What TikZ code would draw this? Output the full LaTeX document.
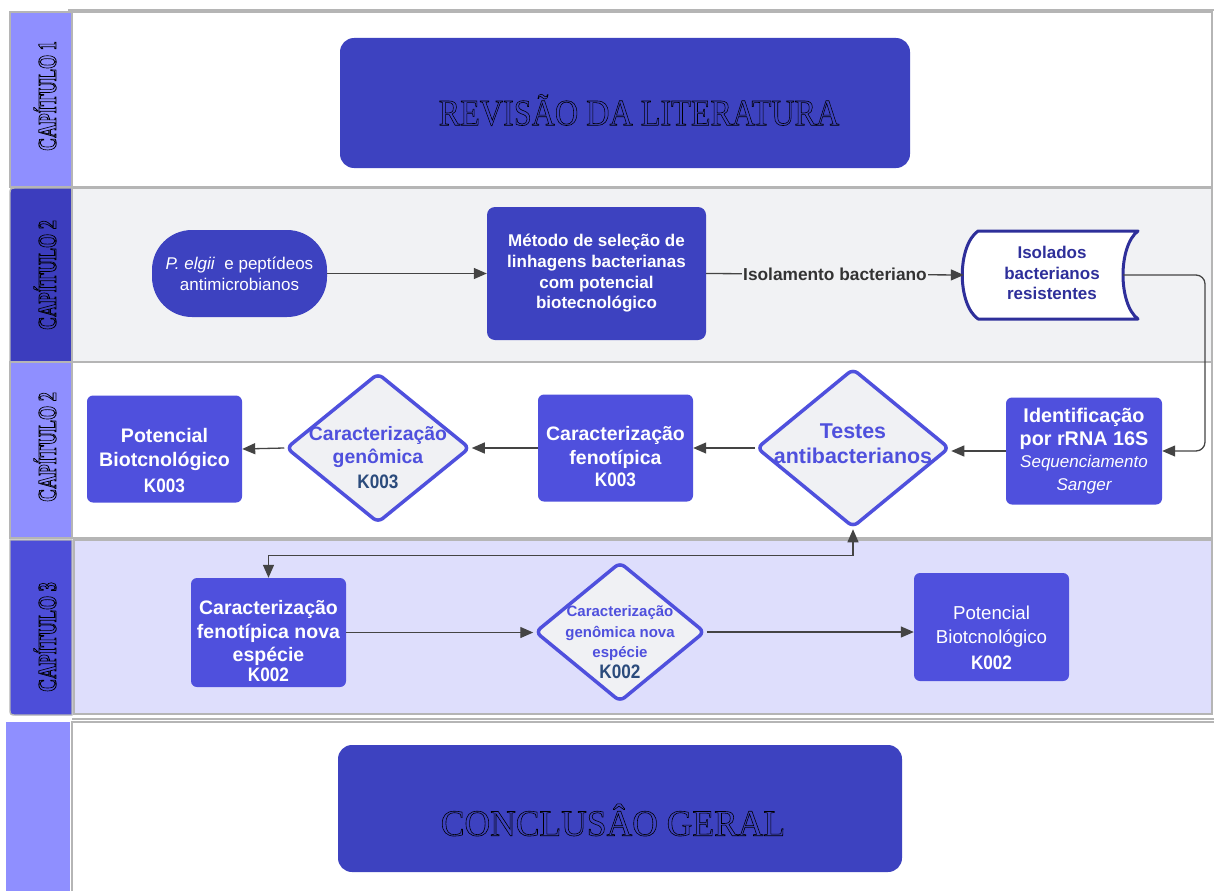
\documentclass[tikz,border=0pt]{standalone}
\usepackage{fontspec}
\setmainfont{Liberation Serif}
\setsansfont{Liberation Sans}
\usetikzlibrary{shapes.geometric,arrows.meta}
\definecolor{cDark}{HTML}{3D42C0}
\definecolor{cMed}{HTML}{4F50DD}
\definecolor{cLight}{HTML}{8F8FFF}
\definecolor{cLabTwo}{HTML}{3C3DBE}
\definecolor{cLabThree}{HTML}{4D4ED9}
\definecolor{cLaneTwo}{HTML}{F1F2F4}
\definecolor{cLaneThree}{HTML}{DEDEFC}
\definecolor{cDia}{HTML}{F0F1F4}
\definecolor{cNavy}{HTML}{2E2F9A}
\definecolor{cTeal}{HTML}{2B4B7C}
\definecolor{cBord}{HTML}{B5B5B5}
\definecolor{cLine}{HTML}{444444}
\definecolor{cLbl}{HTML}{333333}
\newcommand\outl[1]{\special{pdf:code 1 Tr 0.6 w}#1\special{pdf:code 0 Tr}}
\newcommand\outlb[1]{\special{pdf:code 1 Tr 0.9 w}#1\special{pdf:code 0 Tr}}
\newcommand\fsz[2]{\fontsize{#1}{#2}\selectfont}
\newcommand\kc[1]{{\sffamily\bfseries\fontsize{19.5}{21}\selectfont\scalebox{0.88}[1]{#1}}}
\begin{document}
\begin{tikzpicture}[x=1pt,y=-1pt,
  lanebord/.style={draw=cBord,line width=1.4pt},
  darkbox/.style={fill=cDark,rounded corners=8pt,inner sep=0pt,text=white,align=center,font=\sffamily\bfseries\fsz{17}{20.7}},
  medbox/.style={fill=cMed,rounded corners=6pt,inner sep=0pt},
  btext/.style={text=white,align=center,inner sep=0pt,font=\sffamily\bfseries\fsz{19.5}{23.5}},
  dia/.style={diamond,draw=cMed,line width=3.5pt,fill=cDia,rounded corners=6pt,inner sep=0pt},
  dtext/.style={text=cMed,align=center,inner sep=0pt,font=\sffamily\bfseries\fsz{19.4}{23}},
  titletext/.style={text=black,font=\rmfamily\fsz{37}{37}},
  chap/.style={text=black,font=\rmfamily\bfseries\fsz{26}{26}},
  conn/.style={draw=cLine,line width=1.3pt,-{Triangle[length=13pt,width=11pt]}},
  lbl/.style={fill=cLaneTwo,text=cLbl,inner sep=1pt,font=\sffamily\bfseries\fsz{17.3}{20}}
]
\useasboundingbox (0,0) rectangle (1214,891);
\fill[white] (0,0) rectangle (1214,891);
% ---------- lanes ----------
\draw[lanebord] (68,10) -- (1214,10);
\filldraw[lanebord,fill=cLight] (10,12) rectangle (72,187);
\filldraw[lanebord,fill=white] (72,12) rectangle (1212,187);
\filldraw[lanebord,fill=cLabTwo] (10,362) -- (10,195) .. controls (10,188) .. (17,188) -- (72,188) -- (72,362) -- cycle;
\filldraw[lanebord,fill=cLaneTwo] (72,188) rectangle (1212,362);
\filldraw[lanebord,fill=cLight] (10,362) rectangle (72,538);
\filldraw[lanebord,fill=white] (72,362) rectangle (1212,538);
\filldraw[lanebord,fill=cLabThree] (10,540) -- (72,540) -- (72,715) -- (17,715) .. controls (10,715) .. (10,708) -- cycle;
\filldraw[lanebord,fill=cLaneThree] (74,540) rectangle (1212,714);
\draw[lanebord] (72,719) -- (1214,719);
\fill[cLight] (6,722) rectangle (70,891);
\draw[lanebord] (72,891) -- (72,722) -- (1214,722);
% ---------- chapter labels ----------
\node[chap,rotate=90] (c1) at (45,96) {\scalebox{0.7}[1]{\outlb{CAPÍTULO 1}}};
\node[chap,rotate=90] (c2a) at (45,275) {\scalebox{0.7}[1]{\outlb{CAPÍTULO 2}}};
\node[chap,rotate=90] (c2b) at (45,447) {\scalebox{0.7}[1]{\outlb{CAPÍTULO 2}}};
\node[chap,rotate=90] (c3) at (45,637) {\scalebox{0.7}[1]{\outlb{CAPÍTULO 3}}};
% ---------- chapter 1 / conclusion ----------
\node[fill=cDark,rounded corners=14pt,minimum width=570pt,minimum height=130pt] (rev) at (625,103) {};
\node[titletext] (revt) at (639,110) {\scalebox{0.87}[1]{\outl{REVISÃO DA LITERATURA}}};
\node[fill=cDark,rounded corners=14pt,minimum width=564pt,minimum height=127pt] (conc) at (620,808.5) {};
\node[titletext] (conct) at (613,820) {\scalebox{0.96}[1]{\outl{CONCLUSÂO GERAL}}};
% ---------- chapter 2, row 1 ----------
\node[fill=cDark,rounded corners=40pt,minimum width=175pt,minimum height=87pt,inner sep=0pt,text=white,align=center,font=\sffamily\fsz{17}{21}] (pill) at (239.5,273.5) {\textit{P. elgii}\ \ e peptídeos\\antimicrobianos};
\node[darkbox,minimum width=219pt,minimum height=133pt] (met) at (596.5,273.5) {Método de seleção de\\linhagens bacterianas\\com potencial\\biotecnológico};
\node[minimum width=176pt,minimum height=88pt,inner sep=0pt] (iso) at (1052,275) {};
\draw[cNavy,line width=3pt,line join=round,fill=white] (978,231) -- (1138,231) .. controls (1118,246) and (1118,304) .. (1138,319) -- (978,319) .. controls (957,304) and (957,246) .. (978,231) -- cycle;
\node[text=cNavy,align=center,font=\sffamily\bfseries\fsz{17}{20.5}] (isot) at (1052,273) {Isolados\\bacterianos\\resistentes};
\draw[conn] (pill.east) -- (met.west);
\draw[conn] (met.east) -- node[lbl] (isol) {Isolamento bacteriano} (iso.west);
% ---------- chapter 2, row 2 ----------
\node[medbox,minimum width=156pt,minimum height=107pt] (ident) at (1084,451) {};
\node[btext] (identt) at (1084,451) {\fsz{19.8}{24}Identificação\\\fsz{19.8}{23}por rRNA 16S\\[-2pt]\mdseries\itshape\fsz{17}{21}Sequenciamento\\\mdseries\itshape\fsz{17}{21}Sanger};
\coordinate (bendR) at (1205,451);
\draw[conn,rounded corners=9pt] ([xshift=-17pt]iso.east) -| (bendR) -- (ident.east);
\node[dia,minimum width=193pt,minimum height=159pt] (test) at (853,448) {};
\node[dtext,font=\sffamily\bfseries\fsz{21.4}{25}] (testt) at (853,444) {Testes\\antibacterianos};
\node[medbox,minimum width=155pt,minimum height=107pt] (fen) at (615.5,448) {};
\node[btext] (fent) at (615.5,457) {Caracterização\\fenotípica\\[-1pt]\kc{K003}};
\node[dia,minimum width=184pt,minimum height=150pt] (gen) at (378,448) {};
\node[dtext] (gent) at (378,458) {Caracterização\\genômica\\[2pt]{\color{cTeal}\kc{K003}}};
\node[medbox,minimum width=155pt,minimum height=107pt] (pot3) at (164.5,449) {};
\node[btext,font=\sffamily\bfseries\fsz{19.6}{24}] (pot3t) at (164.5,461) {Potencial\\Biotcnológico\\[2pt]\kc{K003}};
\draw[conn] (ident.west) -- (ident.west -| test.east);
\draw[conn] (test.west) -- (fen.east);
\draw[conn] (fen.west) -- (gen.east);
\draw[conn] (gen.west) -- (pot3.east);
% ---------- chapter 3 ----------
\node[medbox,minimum width=155pt,minimum height=109pt] (fnova) at (268.5,632.5) {};
\node[btext] (fnovat) at (268.5,641) {Caracterização\\fenotípica nova\\espécie\\[-4pt]\kc{K002}};
\node[dia,minimum width=170pt,minimum height=140pt] (gnova) at (620,632) {};
\node[dtext,font=\sffamily\bfseries\fsz{15}{20.5}] (gnovat) at (620,642) {Caracterização\\genômica nova\\espécie\\{\color{cTeal}\kc{K002}}};
\node[medbox,minimum width=155pt,minimum height=108pt] (pot2) at (991.5,627) {};
\node[btext,font=\sffamily\fsz{18.7}{24}] (pot2t) at (991.5,638) {Potencial\\Biotcnológico\\[2pt]\kc{K002}};
\draw[conn] (fnova.east) -- (fnova.east -| gnova.west);
\draw[conn] (gnova.east) -- (gnova.east -| pot2.west);
\draw[conn,{Triangle[length=13pt,width=11pt]}-{Triangle[length=13pt,width=11pt]}] (test.south) -- ++(0,26) -| (fnova.north);
\end{tikzpicture}
\end{document}
